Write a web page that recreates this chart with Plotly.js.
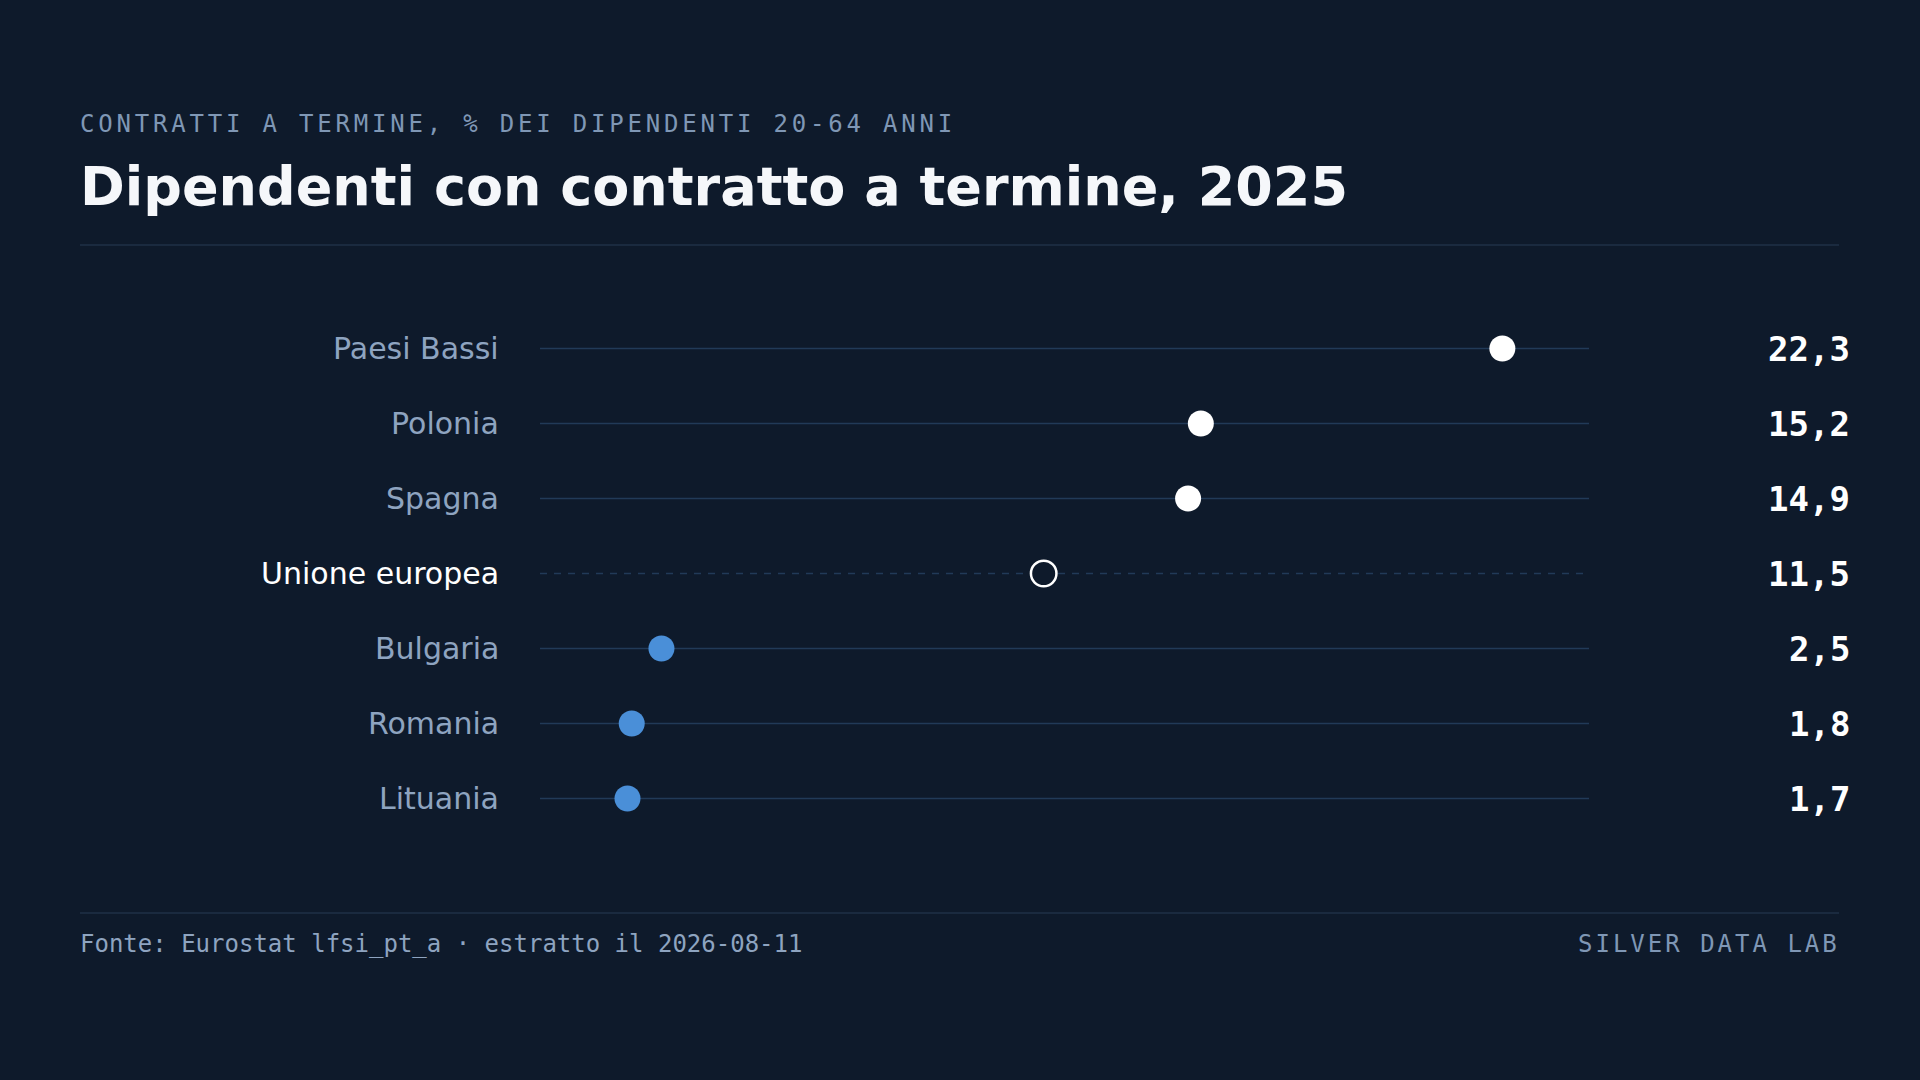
<!DOCTYPE html>
<html>
<head>
<meta charset="utf-8">
<script src="https://cdn.plot.ly/plotly-3.0.1.min.js"></script>
<style>
    html, body { margin: 0; padding: 0; background: #0e1a2b; }
    #graph { width: 1920px; height: 1080px; }
    /* spaced-out monospace for the kicker and the brand */
    .annotation[data-index="0"] .annotation-text { letter-spacing: 3.8px; }
    .annotation[data-index="3"] .annotation-text { letter-spacing: 3px; }
</style>
</head>
<body>
<div id="graph"></div>
<script>

/* ----------------Data---------------- */

var countries = ['Paesi Bassi', 'Polonia', 'Spagna', 'Unione europea', 'Bulgaria', 'Romania', 'Lituania'];
var shares = [22.3, 15.2, 14.9, 11.5, 2.5, 1.8, 1.7]; // % of employees 20-64 on fixed-term contracts
var groups = ['top', 'top', 'top', 'eu', 'bottom', 'bottom', 'bottom'];

var kicker = 'CONTRATTI A TERMINE, % DEI DIPENDENTI 20-64 ANNI';
var chartTitle = 'Dipendenti con contratto a termine, 2025';
var sourceNote = 'Fonte: Eurostat lfsi_pt_a · estratto il 2026-08-11';
var brand = 'SILVER DATA LAB';

/* ----------------Style---------------- */

var BG = '#0e1a2b';
var LABEL_GREY = '#8ea4c0';
var ROW_LINE = '#213a58';
var RULE = '#1a2a3f';
var BLUE = '#4a8fd8';

var W = 1920, H = 1080;
var margin = {l: 540, r: 331, t: 311, b: 244};
var plotW = W - margin.l - margin.r;
var plotH = H - margin.t - margin.b;

/**
 * Converts a pixel x position on the page to paper coordinates.
 */
function px(x) {
    return (x - margin.l) / plotW;
}

/**
 * Converts a pixel y position on the page to paper coordinates.
 */
function py(y) {
    return (H - margin.b - y) / plotH;
}

function formatValue(v) {
    return v.toFixed(1).replace('.', ',');
}

/* ----------------Traces---------------- */

var dotColor = groups.map(function(g) {
    if (g === 'bottom') return BLUE;
    if (g === 'eu') return BG;
    return '#ffffff';
});

var dots = {
    x: shares,
    y: countries,
    type: 'scatter',
    mode: 'markers',
    marker: {
        opacity: 1,
        size: groups.map(function(g) { return g === 'eu' ? 25.5 : 26; }),
        color: dotColor,
        line: {
            color: '#ffffff',
            width: groups.map(function(g) { return g === 'eu' ? 2.5 : 0; })
        }
    },
    hoverinfo: 'skip',
    showlegend: false
};

/* ----------------Shapes---------------- */

var shapes = countries.map(function(c, i) {
    return {
        type: 'line',
        layer: 'below',
        xref: 'paper', x0: 0, x1: 1,
        yref: 'y', y0: c, y1: c,
        line: {
            color: ROW_LINE,
            width: 1.5,
            dash: groups[i] === 'eu' ? '7px,7px' : 'solid'
        }
    };
});

// header and footer rules
shapes.push({
    type: 'line', xref: 'paper', yref: 'paper',
    x0: px(80), x1: px(1839), y0: py(245), y1: py(245),
    line: {color: RULE, width: 2}
});
shapes.push({
    type: 'line', xref: 'paper', yref: 'paper',
    x0: px(80), x1: px(1839), y0: py(913), y1: py(913),
    line: {color: RULE, width: 2}
});

/* ----------------Annotations---------------- */

var annotations = [
    {
        text: kicker, xref: 'paper', yref: 'paper',
        x: px(77.5), y: py(124), xanchor: 'left', yanchor: 'middle', align: 'left',
        showarrow: false,
        font: {family: 'DejaVu Sans Mono', size: 24, color: '#7f97b5'}
    },
    {
        text: chartTitle, xref: 'paper', yref: 'paper',
        x: px(78), y: py(186.8), xanchor: 'left', yanchor: 'middle', align: 'left',
        showarrow: false,
        font: {family: 'DejaVu Sans', size: 54, color: '#f5f7fa', weight: 700}
    },
    {
        text: sourceNote, xref: 'paper', yref: 'paper',
        x: px(78), y: py(943.5), xanchor: 'left', yanchor: 'middle', align: 'left',
        showarrow: false,
        font: {family: 'DejaVu Sans Mono', size: 24, color: '#8ea4c0'}
    },
    {
        text: brand, xref: 'paper', yref: 'paper',
        x: px(1842), y: py(943.5), xanchor: 'right', yanchor: 'middle', align: 'right',
        showarrow: false,
        font: {family: 'DejaVu Sans Mono', size: 24, color: '#7f97b5'}
    }
];

countries.forEach(function(c, i) {
    annotations.push({
        text: c, xref: 'paper', yref: 'y',
        x: px(501), y: c, xanchor: 'right', yanchor: 'middle', align: 'right',
        showarrow: false,
        font: {family: 'DejaVu Sans', size: 30, color: groups[i] === 'eu' ? '#ffffff' : LABEL_GREY}
    });
    annotations.push({
        text: formatValue(shares[i]), xref: 'paper', yref: 'y',
        x: px(1851.5), y: c, xanchor: 'right', yanchor: 'middle', align: 'right',
        showarrow: false,
        font: {family: 'DejaVu Sans Mono', size: 34, color: '#ffffff', weight: 700}
    });
});

/* ----------------Layout---------------- */

var layout = {
    width: W,
    height: H,
    margin: margin,
    paper_bgcolor: BG,
    plot_bgcolor: BG,
    showlegend: false,
    xaxis: {
        range: [-0.36, 24.34],
        showgrid: false,
        zeroline: false,
        showticklabels: false,
        ticks: ''
    },
    yaxis: {
        type: 'category',
        categoryorder: 'array',
        categoryarray: countries,
        range: [countries.length - 0.5, -0.5],
        showgrid: false,
        zeroline: false,
        showticklabels: false,
        ticks: ''
    },
    shapes: shapes,
    annotations: annotations
};

graph = document.getElementById('graph');
Plotly.newPlot(graph, [dots], layout, {staticPlot: true, displayModeBar: false});
</script>
</body>
</html>
